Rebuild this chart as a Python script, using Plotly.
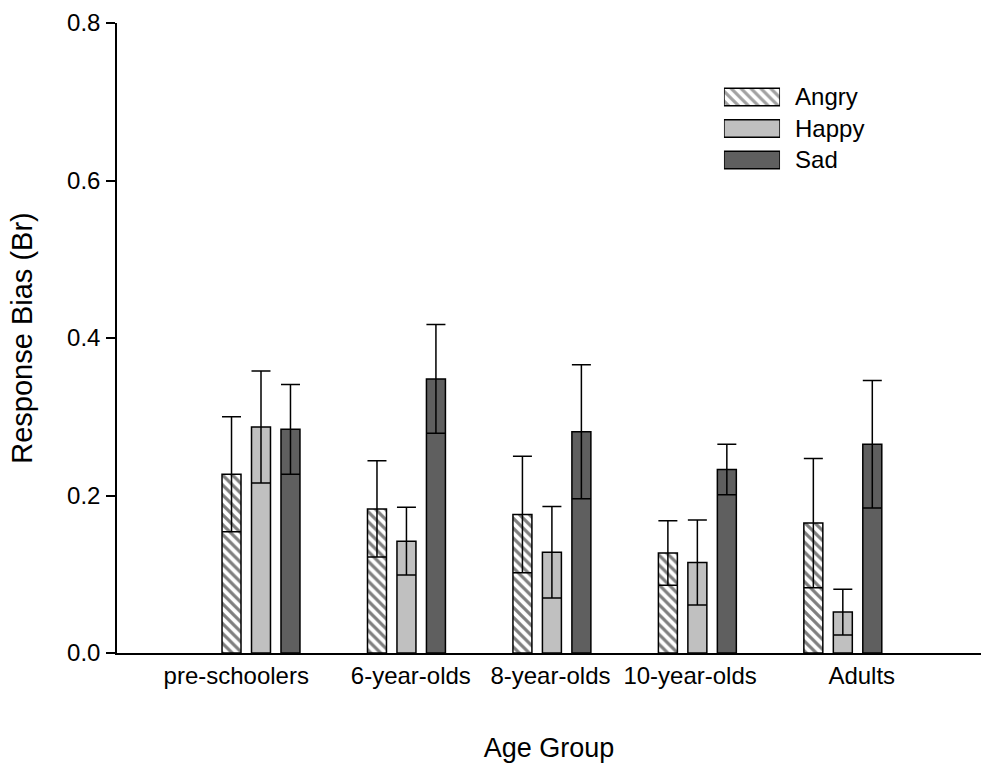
import plotly.graph_objects as go

# Age groups and where their labels sit on the numeric category axis
groups = ["pre-schoolers", "6-year-olds", "8-year-olds", "10-year-olds", "Adults"]
label_pos = [-0.17, 1.03, 1.99, 2.95, 4.13]

emotions = ["Angry", "Happy", "Sad"]

# Mean response bias and its error per age group
angry = [0.227, 0.183, 0.176, 0.127, 0.165]
angry_err = [0.073, 0.061, 0.074, 0.041, 0.082]
happy = [0.287, 0.142, 0.128, 0.115, 0.052]
happy_err = [0.071, 0.043, 0.058, 0.054, 0.029]
sad = [0.284, 0.348, 0.281, 0.233, 0.265]
sad_err = [0.057, 0.069, 0.085, 0.032, 0.081]

y_ticks = [0.0, 0.2, 0.4, 0.6, 0.8]

FONT = "Liberation Sans, Arial, sans-serif"
LIGHT = "#c0c0c0"
DARK = "#5f5f5f"
HATCH = dict(shape="\\", fgcolor="black", bgcolor="white", size=7, solidity=0.46)
NOHATCH = dict(shape="")

x_idx = list(range(len(groups)))


def err(values):
    return dict(type="data", array=values, visible=True, color="black",
                thickness=1.5, width=9.5)


fig = go.Figure()
series = [
    ("Angry", angry, angry_err, "white", HATCH),
    ("Happy", happy, happy_err, LIGHT, NOHATCH),
    ("Sad", sad, sad_err, DARK, NOHATCH),
]
for name, vals, errs, color, pattern in series:
    fig.add_trace(go.Bar(
        x=x_idx, y=vals, name=name, error_y=err(errs),
        marker=dict(color=color, pattern=pattern,
                    line=dict(color="black", width=1.5)),
        showlegend=False,
    ))

# Key drawn as a tiny horizontal bar chart in its own axes
swatch_len = [1] * len(emotions)
fig.add_trace(go.Bar(
    x=swatch_len, y=emotions, orientation="h", xaxis="x2", yaxis="y2",
    width=0.56, showlegend=False, hoverinfo="skip",
    marker=dict(
        color=["white", LIGHT, DARK],
        pattern=dict(shape=["\\", "", ""], fgcolor="black", bgcolor="white",
                     size=7, solidity=0.46),
        line=dict(color="black", width=1.5),
    ),
))

fig.update_layout(
    width=983, height=767,
    margin=dict(l=117, r=2, t=23, b=114),
    paper_bgcolor="white", plot_bgcolor="white",
    font=dict(family=FONT, color="black", size=24),
    barmode="group", bargap=0.392, bargroupgap=0.356,
    xaxis=dict(
        range=[-0.99, 4.95], tickmode="array", tickvals=label_pos,
        ticktext=groups, ticks="", showline=True, linecolor="black",
        linewidth=1.5, showgrid=False, zeroline=False,
        tickfont=dict(size=24),
        title=dict(text="Age Group", font=dict(size=27), standoff=51),
    ),
    yaxis=dict(
        range=[0, 0.8], tickmode="array", tickvals=y_ticks, tickformat=".1f",
        ticks="outside", ticklen=9, tickwidth=1.5, tickcolor="black",
        ticklabelstandoff=1,
        showline=True, linecolor="black", linewidth=1.5, showgrid=False,
        zeroline=False, tickfont=dict(size=24),
        title=dict(text="Response Bias (Br)", font=dict(size=29), standoff=26),
    ),
    xaxis2=dict(domain=[0.7025, 0.7674], anchor="y2", range=[0, 1],
                visible=False, fixedrange=True),
    yaxis2=dict(domain=[0.7575, 0.9075], anchor="x2", side="right",
                autorange="reversed", showline=False, showgrid=False,
                zeroline=False, ticks="", ticklabelstandoff=14,
                tickfont=dict(size=24), fixedrange=True),
)

fig.write_html("out.html")
